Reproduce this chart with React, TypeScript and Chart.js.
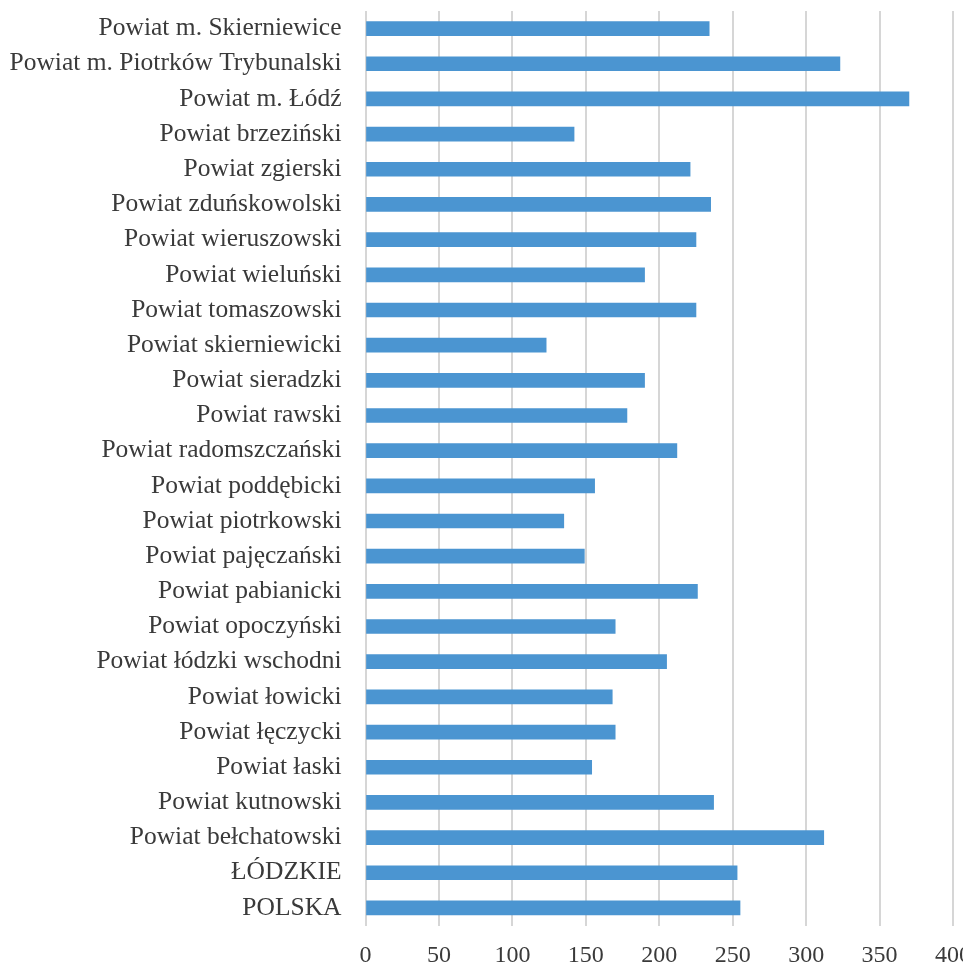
import React, { useEffect, useRef } from "react";
import { Chart, registerables } from "chart.js";

Chart.register(...registerables);

const categories: string[] = [
  "Powiat m. Skierniewice",
  "Powiat m. Piotrków Trybunalski",
  "Powiat m. Łódź",
  "Powiat brzeziński",
  "Powiat zgierski",
  "Powiat zduńskowolski",
  "Powiat wieruszowski",
  "Powiat wieluński",
  "Powiat tomaszowski",
  "Powiat skierniewicki",
  "Powiat sieradzki",
  "Powiat rawski",
  "Powiat radomszczański",
  "Powiat poddębicki",
  "Powiat piotrkowski",
  "Powiat pajęczański",
  "Powiat pabianicki",
  "Powiat opoczyński",
  "Powiat łódzki wschodni",
  "Powiat łowicki",
  "Powiat łęczycki",
  "Powiat łaski",
  "Powiat kutnowski",
  "Powiat bełchatowski",
  "ŁÓDZKIE",
  "POLSKA",
];

const values: number[] = [
  234, 323, 370, 142, 221, 235, 225, 190, 225, 123, 190, 178, 212, 156, 135,
  149, 226, 170, 205, 168, 170, 154, 237, 312, 253, 255,
];

const xMin = 0;
const xMax = 400;
const xStep = 50;

export default function App() {
  const ref = useRef<HTMLCanvasElement | null>(null);

  useEffect(() => {
    if (!ref.current) return;
    const chart = new Chart(ref.current, {
      type: "bar",
      data: {
        labels: categories,
        datasets: [
          {
            data: values,
            backgroundColor: "#4b95d1",
            borderWidth: 0,
            barThickness: 14,
          },
        ],
      },
      options: {
        indexAxis: "y",
        animation: false,
        responsive: true,
        maintainAspectRatio: false,
        layout: { padding: { left: 0, right: 10, top: 11, bottom: 0 } },
        plugins: {
          legend: { display: false },
          tooltip: { enabled: false },
        },
        scales: {
          x: {
            min: xMin,
            max: xMax,
            ticks: {
              stepSize: xStep,
              padding: 16,
              color: "#3a3a3a",
              font: { family: "'Liberation Serif', serif", size: 24 },
              maxRotation: 0,
            },
            grid: {
              color: "#d6d6d6",
              lineWidth: 2,
              drawTicks: false,
            },
            border: { display: false },
            afterFit: (s: any) => {
              s.height = 41.5;
              s.paddingRight = 0;
              s.paddingLeft = 0;
            },
          },
          y: {
            ticks: {
              padding: 24,
              color: "#3a3a3a",
              font: { family: "'Liberation Serif', serif", size: 25.5 },
              autoSkip: false,
            },
            grid: { display: false, drawTicks: false },
            border: { display: false },
            afterFit: (s: any) => {
              s.width = 365.5;
              s.paddingTop = 0;
              s.paddingBottom = 0;
            },
          },
        },
      },
    });
    return () => chart.destroy();
  }, []);

  return (
    <div
      style={{
        position: "fixed",
        left: 0,
        top: 0,
        width: 963,
        height: 967,
        background: "#ffffff",
      }}
    >
      <canvas ref={ref} />
    </div>
  );
}
